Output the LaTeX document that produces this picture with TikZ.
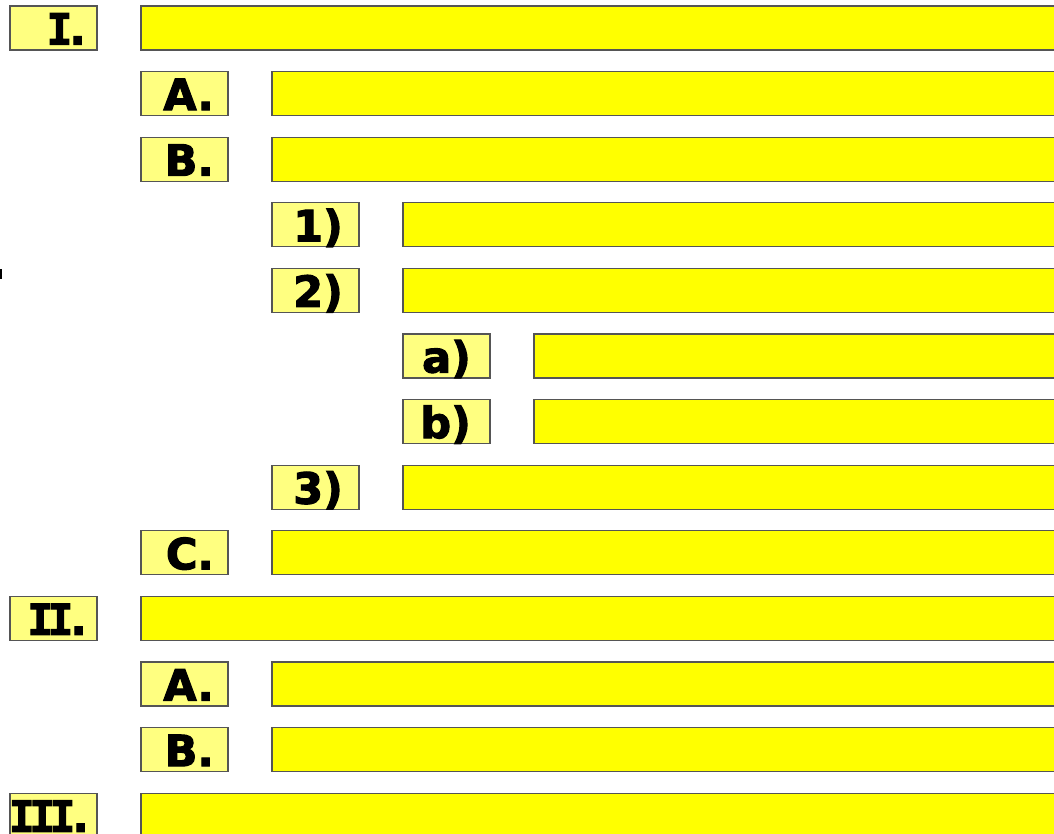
\documentclass[tikz,border=0pt]{standalone}
\usepackage{fontspec}
\setmainfont{DejaVu Sans}
\newfontfamily\lblfont{DejaVu Sans Bold}[FakeBold=2.5]
\newfontfamily\rnfont{DejaVu Sans Mono Bold}[FakeBold=2.5]
\newcommand\rnI{{\rnfont I}}
\definecolor{barfill}{HTML}{FFFF00}
\definecolor{labfill}{HTML}{FFFF80}
\definecolor{edgegray}{HTML}{555555}
\tikzset{
 lbl/.style={draw=edgegray, fill=labfill, line width=1.2pt, minimum width=87pt, minimum height=44pt, inner sep=0pt, outer sep=0pt, anchor=north west},
 barbox/.style={draw=edgegray, fill=barfill, line width=1.2pt, minimum height=44pt, inner sep=0pt, outer sep=0pt, anchor=north west},
 ltxt/.style={font=\fontsize{43}{43}\selectfont\lblfont, inner sep=0pt, anchor=base east},
}
\begin{document}
\begin{tikzpicture}[x=1pt,y=-1pt]
\useasboundingbox (0,0) rectangle (1054,833);
\clip (0,0) rectangle (1054,833);
\fill[black] (0,269) rectangle (2,279);
\foreach \i/\lev/\txt/\cx in {0/0/\rnI\kern-3pt./76, 1/1/A./73, 2/1/B./73, 3/2/1)/71, 4/2/2)/71, 5/3/a)/68, 6/3/b)/68, 7/2/3)/71, 8/1/C./73, 9/0/\rnI\kern-5.5pt\rnI\kern-3pt./77, 10/1/A./73, 11/1/B./73, 12/0/\rnI\kern-5.5pt\rnI\kern-5.5pt\rnI\kern-3pt./79}{
  \pgfmathsetmacro\yt{6+65.6*\i}
  \pgfmathsetmacro\xl{10+131*\lev}
  \pgfmathsetmacro\xb{\xl+131}
  \pgfmathsetmacro\wb{1075-\xb}
  \node[lbl] (lab\i) at (\xl,\yt) {};
  \node[barbox, minimum width=\wb pt] (bar\i) at (\xb,\yt) {};
  \node[ltxt] (txt\i) at (\xl+\cx,\yt+38.5) {\txt};
}
\end{tikzpicture}
\end{document}
